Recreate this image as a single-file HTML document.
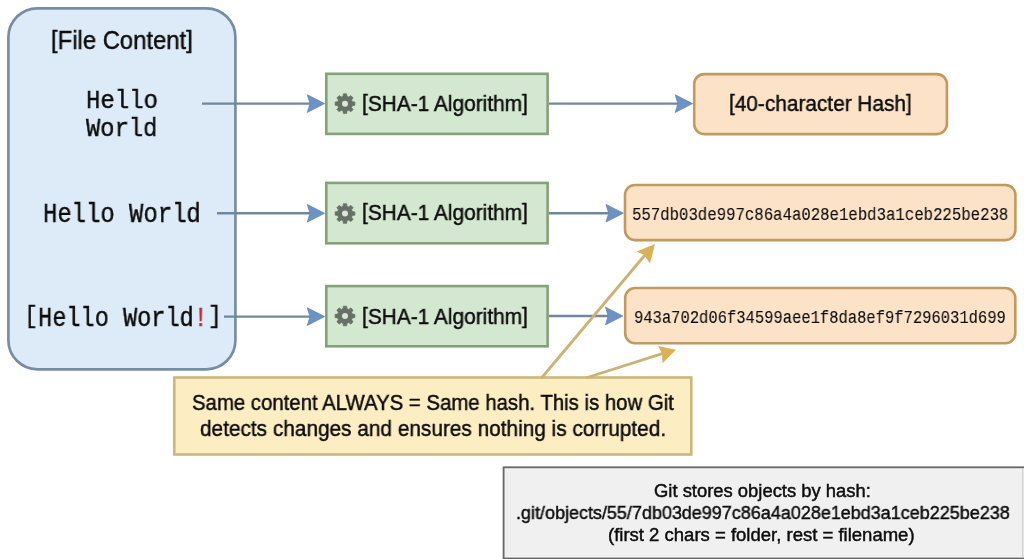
<!DOCTYPE html>
<html>
<head>
<meta charset="utf-8">
<style>
html,body{margin:0;padding:0;}
body{width:1024px;height:559px;position:relative;overflow:hidden;background:#ffffff;font-family:"Liberation Sans",sans-serif;color:#111;}
.t{position:absolute;white-space:nowrap;line-height:1;transform-origin:0 0;color:#0c0c0c;-webkit-text-stroke:0.45px #0c0c0c;will-change:transform;}
svg{position:absolute;left:0;top:0;}
.bs{display:inline-block;transform:translateY(-1.2px) scaleY(0.97);}
.br{display:inline-block;transform:scaleY(0.87);transform-origin:50% 0;}
</style>
</head>
<body>
<svg width="1024" height="559" viewBox="0 0 1024 559">
  <defs>
    <g id="gear">
      <path fill="#657167" stroke="#657167" stroke-width="0.7" stroke-linejoin="round" d="M-1.97 -7.34 L-1.65 -9.86 L1.65 -9.86 L1.97 -7.34 L3.80 -6.58 L5.81 -8.14 L8.14 -5.81 L6.58 -3.80 L7.34 -1.97 L9.86 -1.65 L9.86 1.65 L7.34 1.97 L6.58 3.80 L8.14 5.81 L5.81 8.14 L3.80 6.58 L1.97 7.34 L1.65 9.86 L-1.65 9.86 L-1.97 7.34 L-3.80 6.58 L-5.81 8.14 L-8.14 5.81 L-6.58 3.80 L-7.34 1.97 L-9.86 1.65 L-9.86 -1.65 L-7.34 -1.97 L-6.58 -3.80 L-8.14 -5.81 L-5.81 -8.14 L-3.80 -6.58 Z"/>
      <circle r="3" fill="#dbe5d8"/>
    </g>
  </defs>
  <!-- boxes -->
  <rect x="8.4" y="8.3" width="227" height="361" rx="29" fill="#ddeaf7" stroke="#788da4" stroke-width="2.7"/>
  <g fill="#d4e7d0" stroke="#84a277" stroke-width="2.6">
    <rect x="326.3" y="73.8" width="221.3" height="60.1"/>
    <rect x="326.3" y="182.9" width="221.3" height="60.4"/>
    <rect x="326.3" y="286.1" width="221.3" height="60.2"/>
  </g>
  <g fill="#fce3c8" stroke="#c29a5f" stroke-width="2.6">
    <rect x="694.2" y="74.1" width="252.7" height="60" rx="10"/>
    <rect x="625" y="185" width="390.4" height="55.1" rx="10"/>
    <rect x="625.2" y="288" width="390.1" height="55.3" rx="10"/>
  </g>
  <rect x="174.3" y="377.5" width="517" height="77" fill="#fcedc2" stroke="#cbb87c" stroke-width="2.6"/>
  <rect x="503.6" y="467.3" width="540" height="91.2" fill="#f0f0f0" stroke="#676767" stroke-width="1.8"/>
  <line x1="1022.7" y1="468.5" x2="1022.7" y2="557.5" stroke="#d0d0d0" stroke-width="1.2"/>

  <use href="#gear" x="345" y="103.7"/>
  <use href="#gear" x="345" y="213.5"/>
  <use href="#gear" x="345" y="316"/>
  <g stroke="#70879f" stroke-width="2.4" fill="none">
    <line x1="202" y1="103.6" x2="312.6" y2="103.6"/>
    <line x1="549" y1="103.6" x2="680.5" y2="103.6"/>
    <line x1="217" y1="213.3" x2="312.6" y2="213.3"/>
    <line x1="549" y1="213.2" x2="611.3" y2="213.2"/>
    <line x1="224" y1="316.6" x2="312.6" y2="316.6"/>
    <line x1="549" y1="316.0" x2="610.8" y2="316.0"/>
  </g>
  <g fill="#6b93c4" stroke="#6886ad" stroke-width="0.8" stroke-linejoin="round">
    <path d="M324.6 103.6 L307.3 94.8 L310.0 103.6 L307.3 112.4 Z"/>
    <path d="M692.5 103.6 L675.2 94.8 L677.9 103.6 L675.2 112.4 Z"/>
    <path d="M324.6 213.3 L307.3 204.5 L310.0 213.3 L307.3 222.1 Z"/>
    <path d="M623.3 213.2 L606.0 204.4 L608.7 213.2 L606.0 222.0 Z"/>
    <path d="M324.6 316.6 L307.3 307.8 L310.0 316.6 L307.3 325.4 Z"/>
    <path d="M622.8 316.0 L605.5 307.2 L608.2 316.0 L605.5 324.8 Z"/>
  </g>
  <g stroke="#ccb274" stroke-width="2.8" fill="none">
    <line x1="541.5" y1="378" x2="645" y2="255"/>
    <line x1="585.8" y1="378" x2="663" y2="353.3"/>
  </g>
  <g fill="#ddb056">
    <path d="M655 243.9 L636.6 251.5 L644.2 255.1 L650 263.6 Z"/>
    <path d="M676 349.8 L658 346 L662 353 L662.5 363.3 Z"/>
  </g>
</svg>
<div class="t" style="left:51.13px;top:27.67px;font-size:25.22px;font-family:'Liberation Sans', sans-serif;transform:scaleX(0.9449);"><span class="bs">[</span>File Content<span class="bs">]</span></div>
<div class="t" style="left:85.58px;top:87.73px;font-size:26.67px;font-family:'Liberation Mono', monospace;transform:scaleX(0.9000);">Hello</div>
<div class="t" style="left:86.40px;top:116.26px;font-size:26.36px;font-family:'Liberation Mono', monospace;transform:scaleX(0.9025);">World</div>
<div class="t" style="left:42.99px;top:202.20px;font-size:26.97px;font-family:'Liberation Mono', monospace;transform:scaleX(0.8865);">Hello World</div>
<div class="t" style="left:23.99px;top:305.62px;font-size:26.82px;font-family:'Liberation Mono', monospace;transform:scaleX(0.8788);"><span class="br">[</span>Hello World<span style="color:#b0303e;-webkit-text-stroke-color:#b0303e">!</span><span class="br">]</span></div>
<div class="t" style="left:361.54px;top:92.78px;font-size:22.03px;font-family:'Liberation Sans', sans-serif;transform:scaleX(0.9481);"><span class="bs">[</span>SHA-1 Algorithm<span class="bs">]</span></div>
<div class="t" style="left:361.54px;top:202.28px;font-size:22.03px;font-family:'Liberation Sans', sans-serif;transform:scaleX(0.9481);"><span class="bs">[</span>SHA-1 Algorithm<span class="bs">]</span></div>
<div class="t" style="left:361.54px;top:305.78px;font-size:22.03px;font-family:'Liberation Sans', sans-serif;transform:scaleX(0.9481);"><span class="bs">[</span>SHA-1 Algorithm<span class="bs">]</span></div>
<div class="t" style="left:729.24px;top:92.78px;font-size:22.03px;font-family:'Liberation Sans', sans-serif;transform:scaleX(0.9452);"><span class="bs">[</span>40-character Hash<span class="bs">]</span></div>
<div class="t" style="left:632.16px;top:205.88px;font-size:18.18px;font-family:'Liberation Mono', monospace;transform:scaleX(0.8627);-webkit-text-stroke-width:0.1px;">557db03de997c86a4a028e1ebd3a1ceb225be238</div>
<div class="t" style="left:634.12px;top:309.08px;font-size:18.18px;font-family:'Liberation Mono', monospace;transform:scaleX(0.8524);-webkit-text-stroke-width:0.1px;">943a702d06f34599aee1f8da8ef9f7296031d699</div>
<div class="t" style="left:191.68px;top:392.28px;font-size:22.61px;font-family:'Liberation Sans', sans-serif;transform:scaleX(0.9005);">Same content ALWAYS = Same hash. This is how Git</div>
<div class="t" style="left:200.07px;top:418.18px;font-size:22.61px;font-family:'Liberation Sans', sans-serif;transform:scaleX(0.9202);">detects changes and ensures nothing is corrupted.</div>
<div class="t" style="left:654.08px;top:482.16px;font-size:18.41px;font-family:'Liberation Sans', sans-serif;transform:scaleX(0.9997);">Git stores objects by hash:</div>
<div class="t" style="left:516.38px;top:503.66px;font-size:18.41px;font-family:'Liberation Sans', sans-serif;transform:scaleX(0.9764);">.git/objects/55/7db03de997c86a4a028e1ebd3a1ceb225be238</div>
<div class="t" style="left:608.49px;top:525.76px;font-size:18.41px;font-family:'Liberation Sans', sans-serif;transform:scaleX(1.0056);">(first 2 chars = folder, rest = filename)</div>

</body>
</html>
